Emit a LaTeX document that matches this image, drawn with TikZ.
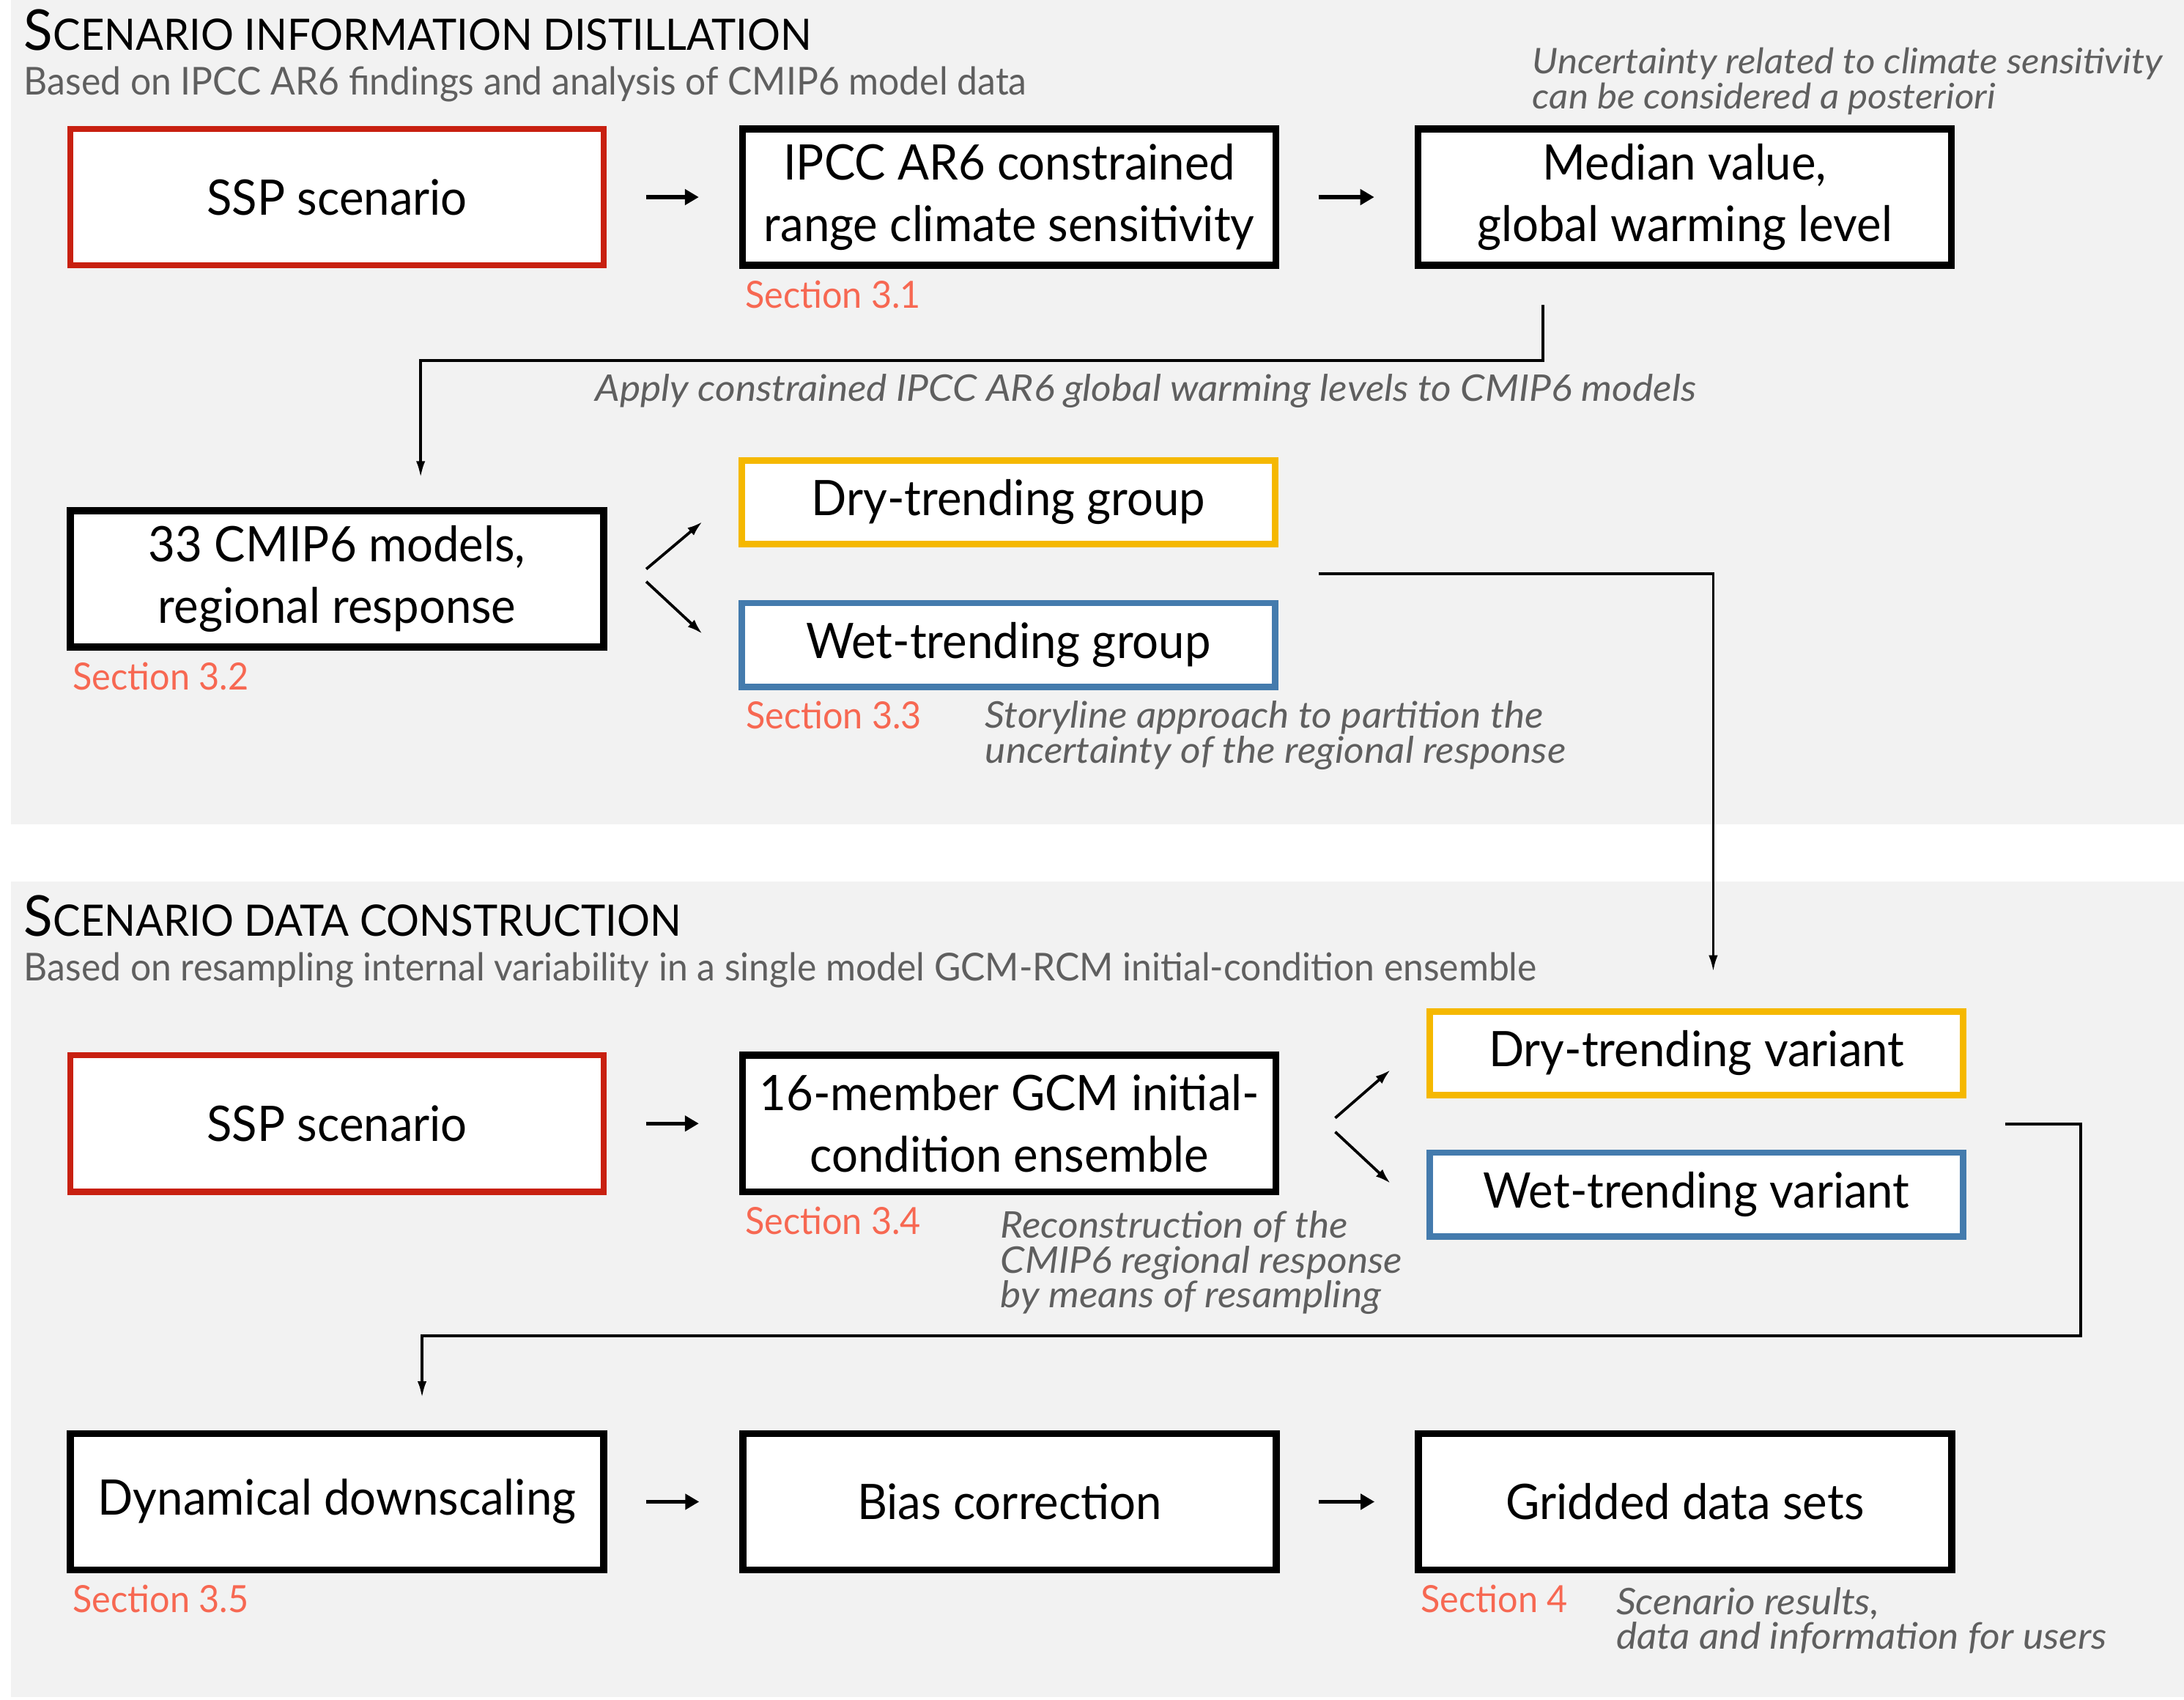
\documentclass[tikz,border=0pt]{standalone}
\usepackage{fontspec}
\setmainfont{Lato}[FakeStretch=0.95]
\newfontfamily\notefont{Lato}[FakeStretch=1.065]
\usetikzlibrary{positioning,arrows.meta,calc}
\definecolor{panel}{HTML}{F2F2F2}
\definecolor{sspred}{HTML}{C82010}
\definecolor{dryyellow}{HTML}{F5B800}
\definecolor{wetblue}{HTML}{447BAD}
\definecolor{secred}{HTML}{F76852}
\definecolor{notegray}{HTML}{5F5F5F}
\newcommand\tightlines{\lineskiplimit=-100pt\relax}

\begin{document}
\begin{tikzpicture}[x=0.02cm, y=-0.02cm,
      box/.style={draw=black, fill=white, line width=0.1cm, minimum width=7.66cm, minimum height=1.96cm,
                  align=center, inner sep=0pt, font=\fontsize{20}{25}\selectfont},
      redbox/.style={box, draw=sspred, line width=0.09cm},
      grpbox/.style={box, minimum height=1.2cm, line width=0.09cm},
      sec/.style={anchor=north west, inner sep=0pt, text=secred, font=\fontsize{15.3}{16}\selectfont},
      note/.style={anchor=north west, inner sep=0pt, align=left, text=notegray,
                   font=\notefont\fontsize{15}{14.2}\selectfont\itshape\tightlines},
      head/.style={anchor=base west, inner sep=0pt, font=\fontsize{23}{24}\selectfont},
      sub/.style={anchor=base west, inner sep=0pt, text=notegray, font=\fontsize{15.7}{16}\selectfont},
      arr/.style={-{Triangle[length=0.2cm,width=0.22cm]}, line width=0.055cm, shorten <=0.56cm, shorten >=0.58cm},
      darr/.style={-{Latex[length=0.22cm,width=0.14cm]}, line width=0.04cm},
      conn/.style={-{Latex[length=0.24cm,width=0.13cm]}, line width=0.04cm}]
    \useasboundingbox (0,0) rectangle (1568,1220);
    \fill[panel] (8,0) rectangle (1568,592);
    \fill[panel] (8,633) rectangle (1568,1218);

    % scenario information distillation
    \node[head] (t1) at (17,36) {S{\fontsize{17.7}{18}\selectfont CENARIO INFORMATION DISTILLATION}};
    \node[sub] (s1) at (17,68) {Based on IPCC AR6 findings and analysis of CMIP6 model data};
    \node[redbox] (ssp1) at (242,141.5) {SSP scenario};
    \node[box, right=1.9cm of ssp1] (ipcc) {IPCC AR6 constrained\\range climate sensitivity};
    \node[box, right=1.94cm of ipcc] (median) {Median value,\\global warming level};
    \draw[arr] (ssp1) -- (ipcc); \draw[arr] (ipcc) -- (median);
    \node[sec] (sec31) at ([shift={(4,8)}]ipcc.south west) {Section 3.1};
    \node[note, font=\notefont\fontsize{14.4}{14.2}\selectfont\itshape\tightlines] (n1) at (1100,34) {Uncertainty related to climate sensitivity\\can be considered a posteriori};

    \node[box] (cmip) at (242,415.5) {33 CMIP6 models,\\regional response};
    \node[grpbox, draw=dryyellow] (drygrp) at (724,360.5) {Dry-trending group};
    \node[grpbox, draw=wetblue, below=0.76cm of drygrp] (wetgrp) {Wet-trending group};
    \draw[conn] ([shift={(-102,26)}]median.south) -- ++(0,40) -| ([shift={(60,-21)}]cmip.north);
    \node[note] (n2) at (427,268) {Apply constrained IPCC AR6 global warming levels to CMIP6 models};
    \draw[darr] ([shift={(28,-7)}]cmip.east) -- ([shift={(-26,14)}]drygrp.west);
    \draw[darr] ([shift={(28,2)}]cmip.east) -- ([shift={(-26,-8)}]wetgrp.west);
    \node[sec] (sec32) at ([shift={(4,8)}]cmip.south west) {Section 3.2};
    \node[sec] (sec33) at ([shift={(5,8)}]wetgrp.south west) {Section 3.3};
    \node[note] (n3) at (707,503) {Storyline approach to partition the\\uncertainty of the regional response};

    % scenario data construction
    \node[head] (t2) at (17,672) {S{\fontsize{17.7}{18}\selectfont CENARIO DATA CONSTRUCTION}};
    \node[sub] (s2) at (17,704) {Based on resampling internal variability in a single model GCM-RCM initial-condition ensemble};
    \node[redbox] (ssp2) at (242,806.5) {SSP scenario};
    \node[box, right=1.9cm of ssp2] (ens) {16-member GCM initial-\\condition ensemble};
    \node[grpbox, draw=dryyellow] (dryvar) at (1218,756) {Dry-trending variant};
    \node[grpbox, draw=wetblue, below=0.74cm of dryvar] (wetvar) {Wet-trending variant};
    \draw[arr] (ssp2) -- (ens);
    \draw[darr] ([shift={(40,-4)}]ens.east) -- ([shift={(-26,12)}]dryvar.west);
    \draw[darr] ([shift={(40,6)}]ens.east) -- ([shift={(-26,-8)}]wetvar.west);
    \draw[conn] ([shift={(29,0)}]$(drygrp.south east)!0.5!(wetgrp.north east)$) -| ([shift={(12,-26)}]dryvar.north);
    \node[sec] (sec34) at ([shift={(4,8)}]ens.south west) {Section 3.4};
    \node[note] (n4) at (718,869) {Reconstruction of the\\CMIP6 regional response\\by means of resampling};

    \node[box] (dyn) at (242,1078) {Dynamical downscaling};
    \node[box, right=1.9cm of dyn] (bias) {Bias correction};
    \node[box, right=1.94cm of bias] (grid) {Gridded data sets};
    \draw[conn] ([shift={(28,0)}]$(dryvar.south east)!0.5!(wetvar.north east)$) -- ++(54,0) -- ++(0,152)
        -| ([shift={(61,-23)}]dyn.north);
    \draw[arr] (dyn) -- (bias); \draw[arr] (bias) -- (grid);
    \node[sec] (sec35) at ([shift={(4,8)}]dyn.south west) {Section 3.5};
    \node[sec] (sec4) at ([shift={(4,8)}]grid.south west) {Section 4};
    \node[note] (n5) at (1160,1139) {Scenario results,\\data and information for users};
  \end{tikzpicture}
\end{document}
